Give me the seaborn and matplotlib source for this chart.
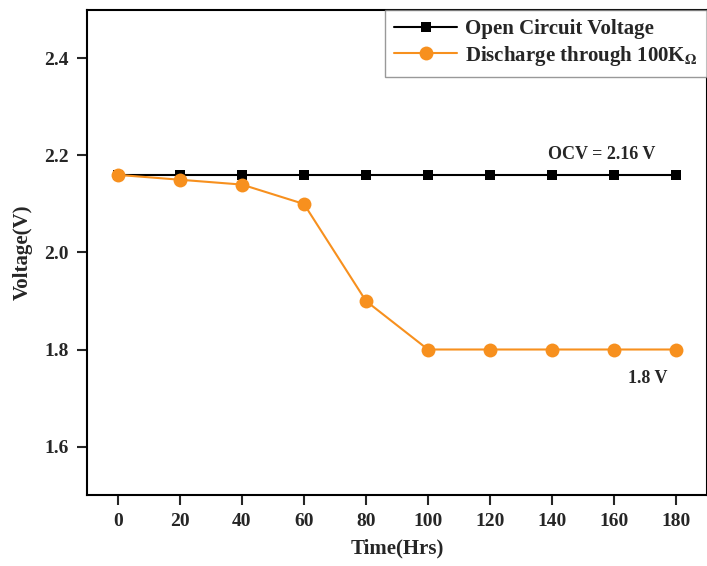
import pandas as pd
import seaborn as sns
import matplotlib.pyplot as plt

# data
time_hrs = [0, 20, 40, 60, 80, 100, 120, 140, 160, 180]
ocv = [2.16, 2.16, 2.16, 2.16, 2.16, 2.16, 2.16, 2.16, 2.16, 2.16]
discharge = [2.16, 2.15, 2.14, 2.10, 1.90, 1.80, 1.80, 1.80, 1.80, 1.80]

sns.set_style("ticks")
plt.rcParams['font.family'] = ['Liberation Serif', 'DejaVu Serif']
plt.rcParams['font.weight'] = 'bold'
plt.rcParams['mathtext.fontset'] = 'stix'

orange = "#F7901E"

fig = plt.figure(figsize=(7.07, 5.66), dpi=100)
ax = fig.add_axes([0.123, 0.1254, 0.877, 0.857])

df_ocv = pd.DataFrame({"Time": time_hrs, "Voltage": ocv})
df_dis = pd.DataFrame({"Time": time_hrs, "Voltage": discharge})

sns.lineplot(data=df_ocv, x="Time", y="Voltage", ax=ax, color="black",
             marker="s", markersize=7.5, markeredgewidth=0, linewidth=1.5,
             label="Open Circuit Voltage")
sns.lineplot(data=df_dis, x="Time", y="Voltage", ax=ax, color=orange,
             marker="o", markersize=10, markeredgewidth=0, linewidth=1.5,
             label=r"Discharge through 100K$_{\mathbf{\Omega}}$")

ax.set_xlim(-10, 190)
ax.set_ylim(1.5, 2.5)
ax.set_xticks(range(0, 181, 20))
ax.set_yticks([1.6, 1.8, 2.0, 2.2, 2.4])
ax.set_yticklabels(["1.6", "1.8", "2.0", "2.2", "2.4"])

for s in ax.spines.values():
    s.set_linewidth(1.5)
    s.set_color("black")
ax.tick_params(axis="both", direction="out", length=7, width=1.5,
               labelsize=14, pad=6)

ax.set_xlabel("Time(Hrs)", fontsize=15, fontweight="bold", labelpad=6)
ax.set_ylabel("Voltage(V)", fontsize=15, fontweight="bold", labelpad=8)

ax.text(156, 2.184, "OCV = 2.16 V", fontsize=13, fontweight="bold",
        ha="center", va="bottom")
ax.text(171, 1.757, "1.8 V", fontsize=13, fontweight="bold",
        ha="center", va="top")

leg = ax.legend(loc="upper right", fontsize=15, frameon=True, fancybox=False,
                borderaxespad=0, handlelength=3.0, handletextpad=0.4,
                edgecolor="gray", borderpad=0.45, labelspacing=0.2)
leg.get_frame().set_linewidth(1.0)

plt.savefig("out.png", dpi=100)
